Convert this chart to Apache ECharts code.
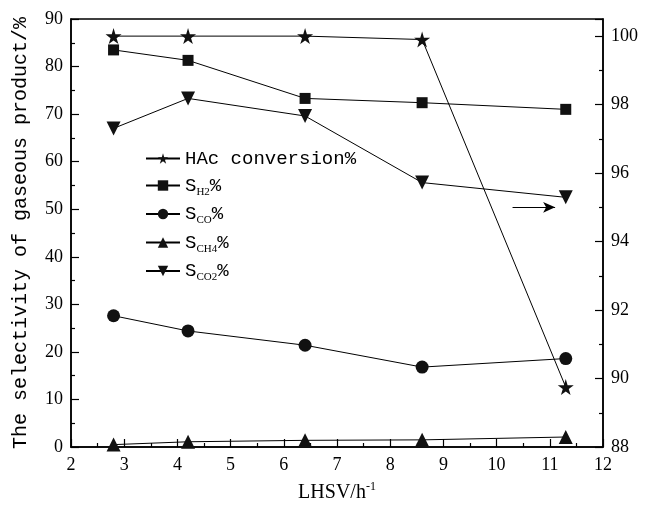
<!DOCTYPE html>
<html>
<head>
<meta charset="utf-8">
<script src="https://cdn.jsdelivr.net/npm/echarts@6/dist/echarts.min.js"></script>
<style>
  html, body { margin: 0; padding: 0; background: #fff; }
  #chart { width: 646px; height: 506px; }
</style>
</head>
<body>
<div id="chart"></div>
<script>
// LHSV values (h^-1)
var lhsv = [2.8, 4.2, 6.4, 8.6, 11.3];

// selectivity of gaseous products (%) - left axis
var sH2 = [83.5, 81.3, 73.3, 72.4, 71.0];
var sCO = [27.6, 24.4, 21.4, 16.8, 18.6];
var sCH4 = [0.5, 1.1, 1.4, 1.5, 2.1];
var sCO2 = [67.0, 73.3, 69.6, 55.6, 52.5];

// HAc conversion (%) - right axis
var hacConv = [100.0, 100.0, 100.0, 99.9, 89.75];

var leftTicks = [0, 90, 10];
var rightTicks = [88, 100.5, 2];

var serif = 'Liberation Serif';
var mono = 'Liberation Mono';
var starPath = 'path://M50,0 L61,35 L98,35 L68,57 L79,91 L50,70 L21,91 L32,57 L2,35 L39,35 Z';

function pairs(ys) {
  return lhsv.map(function (x, i) { return [x, ys[i]]; });
}

function makeSeries(name, ys, symbol, size, axis, rotate) {
  return {
    name: name,
    type: 'line',
    yAxisIndex: axis,
    data: pairs(ys),
    symbol: symbol,
    symbolSize: size,
    symbolRotate: rotate || 0,
    lineStyle: { color: '#000', width: 1 },
    itemStyle: { color: '#111' },
    z: 3
  };
}

var labelMap = {
  'HAc conversion%': 'HAc conversion%',
  'S_H2%': 'S{sub|H2}%',
  'S_CO%': 'S{sub|CO}%',
  'S_CH4%': 'S{sub|CH4}%',
  'S_CO2%': 'S{sub|CO2}%'
};

var hacSeries = makeSeries('HAc conversion%', hacConv, starPath, 16, 1);
// little arrow pointing to the right axis
hacSeries.markLine = {
  silent: true,
  symbol: ['none', 'arrow'],
  symbolSize: [8, 12],
  label: { show: false },
  lineStyle: { color: '#000', width: 1, type: 'solid' },
  data: [[{ coord: [10.3, 95.0] }, { coord: [11.1, 95.0] }]]
};

var tick = { show: true, inside: true, length: 8, lineStyle: { color: '#000', width: 1.2 } };
var minor = { show: true, splitNumber: 2, length: 4, lineStyle: { color: '#000', width: 1.2 } };

var chart = echarts.init(document.getElementById('chart'));
chart.setOption({
  backgroundColor: '#fff',
  animation: false,
  grid: {
    left: 71, right: 43, top: 19, bottom: 59,
    outerBoundsMode: 'none',
    containLabel: false,
    show: true, borderColor: '#000', borderWidth: 1.5
  },
  legend: {
    orient: 'vertical',
    left: 140,
    top: 143,
    itemWidth: 34,
    itemHeight: 13,
    itemGap: 6,
    data: Object.keys(labelMap),
    formatter: function (n) { return labelMap[n]; },
    textStyle: {
      fontFamily: mono,
      fontSize: 19,
      color: '#000',
      lineHeight: 21,
      rich: {
        sub: { fontFamily: serif, fontSize: 11, color: '#000', padding: [13, 0, 0, 0] }
      }
    }
  },
  xAxis: {
    type: 'value',
    min: 2, max: 12, interval: 1,
    name: 'LHSV/h{sup|-1}',
    nameLocation: 'middle',
    nameGap: 34,
    nameTextStyle: {
      fontFamily: serif, fontSize: 20, color: '#000',
      rich: { sup: { fontFamily: serif, fontSize: 12, color: '#000', padding: [0, 0, 12, 0] } }
    },
    axisLine: { show: true, onZero: false, lineStyle: { color: '#000', width: 1.5 } },
    axisTick: tick,
    minorTick: minor,
    splitLine: { show: false },
    axisLabel: { fontFamily: serif, fontSize: 18, color: '#000', margin: 9 }
  },
  yAxis: [
    {
      type: 'value',
      min: leftTicks[0], max: leftTicks[1], interval: leftTicks[2],
      name: 'The selectivity of gaseous product/%',
      nameLocation: 'middle',
      nameGap: 40,
      nameTextStyle: { fontFamily: mono, fontSize: 20, color: '#000' },
      axisLine: { show: true, lineStyle: { color: '#000', width: 1.5 } },
      axisTick: tick,
      minorTick: minor,
      splitLine: { show: false },
      axisLabel: { fontFamily: serif, fontSize: 18, color: '#000', margin: 8 }
    },
    {
      type: 'value',
      position: 'right',
      min: rightTicks[0], max: rightTicks[1], interval: rightTicks[2],
      axisLine: { show: true, lineStyle: { color: '#000', width: 1.5 } },
      axisTick: tick,
      minorTick: minor,
      splitLine: { show: false },
      axisLabel: {
        fontFamily: serif, fontSize: 18, color: '#000', margin: 8,
        showMaxLabel: false
      }
    }
  ],
  series: [
    hacSeries,
    makeSeries('S_H2%', sH2, 'rect', 11, 0),
    makeSeries('S_CO%', sCO, 'circle', 13, 0),
    makeSeries('S_CH4%', sCH4, 'triangle', 14, 0),
    makeSeries('S_CO2%', sCO2, 'triangle', 14, 0, 180)
  ]
});
</script>
</body>
</html>
